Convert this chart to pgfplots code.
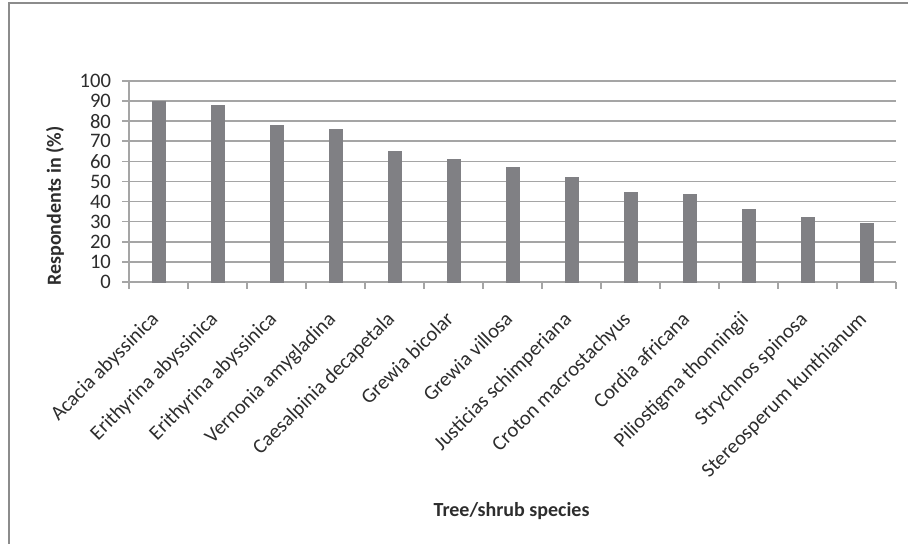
\documentclass[border=0pt]{standalone}
\usepackage{pgfplots}
\pgfplotsset{compat=1.18}
\usepackage{fontspec}
\setmainfont{Carlito}
\definecolor{barc}{RGB}{128,128,132}
\definecolor{gridc}{RGB}{165,165,165}
\definecolor{txt}{RGB}{45,45,45}
\definecolor{framec}{RGB}{140,140,140}
\begin{document}
\begin{tikzpicture}[x=1pt,y=1pt]
\useasboundingbox (0,0) rectangle (454,272);
\draw[framec, line width=1.2pt] (4.5,-5) -- (4.5,270.6) -- (470,270.6);
\begin{axis}[
  at={(64.5pt,131pt)}, anchor=south west,
  scale only axis, width=383.5pt, height=100.5pt,
  ymin=0, ymax=100, ytick={0,10,...,100},
  xmin=-0.5, xmax=12.5,
  xtick={0,1,...,12},
  xticklabels={Acacia abyssinica, Erithyrina abyssinica, Erithyrina abyssinica, Vernonia amygladina, Caesalpinia decapetala, Grewia bicolar, Grewia villosa, Justicias schimperiana, Croton macrostachyus, Cordia africana, Piliostigma thonningii, Strychnos spinosa, Stereosperum kunthianum},
  major x tick style={draw=none},
  minor xtick={-0.5,0.5,...,12.5},
  minor x tick style={gridc, line width=0.8pt},
  minor tick length=3.5pt,
  major tick length=3.5pt,
  tick align=outside,
  y tick style={gridc, line width=0.8pt},
  axis x line*=bottom, axis y line*=left,
  axis line style={gridc, line width=0.8pt, -},
  ymajorgrids, grid style={gridc, line width=0.8pt},
  /pgf/number format/assume math mode=true,
  tick label style={font=\fontsize{10.3}{12}\selectfont, text=txt},
  xticklabel style={xshift=-4.5pt, yshift=-9pt, rotate=45, anchor=north east, inner sep=1pt},
  yticklabel style={xshift=-2pt},
  ybar, bar width=6.5pt,
  clip=false,
]
\addplot[fill=barc, draw=barc] coordinates {
(0,90) (1,88) (2,78) (3,76) (4,65) (5,61) (6,57) (7,52) (8,44.5) (9,43.5) (10,36) (11,32) (12,29)
};
\end{axis}
\node[rotate=90, text=txt, font=\bfseries\fontsize{10}{12}\selectfont] at (27.5,169) {Respondents in (\%)};
\node[text=txt, font=\bfseries\fontsize{10}{12}\selectfont] at (255.8,16.5) {Tree/shrub species};
\end{tikzpicture}
\end{document}
